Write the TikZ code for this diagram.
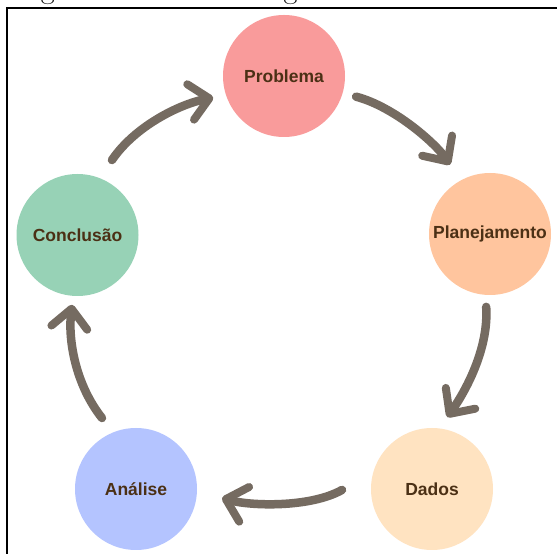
\documentclass[tikz,border=0pt]{standalone}
\usepackage{fontspec}
\newfontfamily\labelfont{Liberation Sans}
\usetikzlibrary{arrows.meta}
\definecolor{probfill}{HTML}{F99B9B}
\definecolor{planfill}{HTML}{FFC59E}
\definecolor{dadosfill}{HTML}{FFE3C1}
\definecolor{analfill}{HTML}{B4C4FF}
\definecolor{concfill}{HTML}{97D2B6}
\definecolor{txtbrown}{HTML}{4B3015}
\definecolor{arrowgray}{HTML}{756B61}
\begin{document}
\begin{tikzpicture}[x=1pt,y=1pt,
  stage/.style={circle, minimum size=122pt, inner sep=0pt,
    font=\labelfont\bfseries\fontsize{17.5}{20}\selectfont, text=txtbrown},
  cyc/.style={draw=arrowgray, line width=8.5pt, line cap=round,
    -{Straight Barb[length=19pt,width=36pt,line width=8pt,round]}}]
\useasboundingbox (0,0) rectangle (557,554);
\clip (0,0) rectangle (557,554);
\fill[white] (0,0) rectangle (557,554);
\node[anchor=base west, inner sep=0pt, font=\fontsize{30}{36}\selectfont] (cap) at (15,555.5) {Figura 1: Ciclo investigativo.};
\draw[line width=2pt] (6.5,0) -- (6.5,545.5) -- (557,545.5);
\node[stage, fill=probfill] (prob) at (284,478) {Problema};
\node[stage, fill=planfill] (plan) at (490,320) {Planejamento};
\node[stage, fill=dadosfill] (dados) at (432,65) {Dados};
\node[stage, fill=analfill] (anal) at (136,65) {Análise};
\node[stage, fill=concfill] (conc) at (77.5,319) {Conclusão};
\draw[cyc] ([shift={(-16:75pt)}]prob.center) .. controls (395,447) and (436,410) .. ([shift={(120:80pt)}]plan.center);
\draw[cyc] ([shift={(-93:73pt)}]plan.center) .. controls (489,205) and (465,162) .. ([shift={(78:73.5pt)}]dados.center);
\draw[cyc] ([shift={(180.6:90pt)}]dados.center) .. controls (310,46) and (250,48) .. ([shift={(-6:86.5pt)}]anal.center);
\draw[cyc] ([shift={(115.6:78.7pt)}]anal.center) .. controls (75,170) and (68,215) .. ([shift={(-94.5:70pt)}]conc.center);
\draw[cyc] ([shift={(65.3:82.5pt)}]conc.center) .. controls (135,428) and (180,450) .. ([shift={(197:74pt)}]prob.center);
\end{tikzpicture}
\end{document}
